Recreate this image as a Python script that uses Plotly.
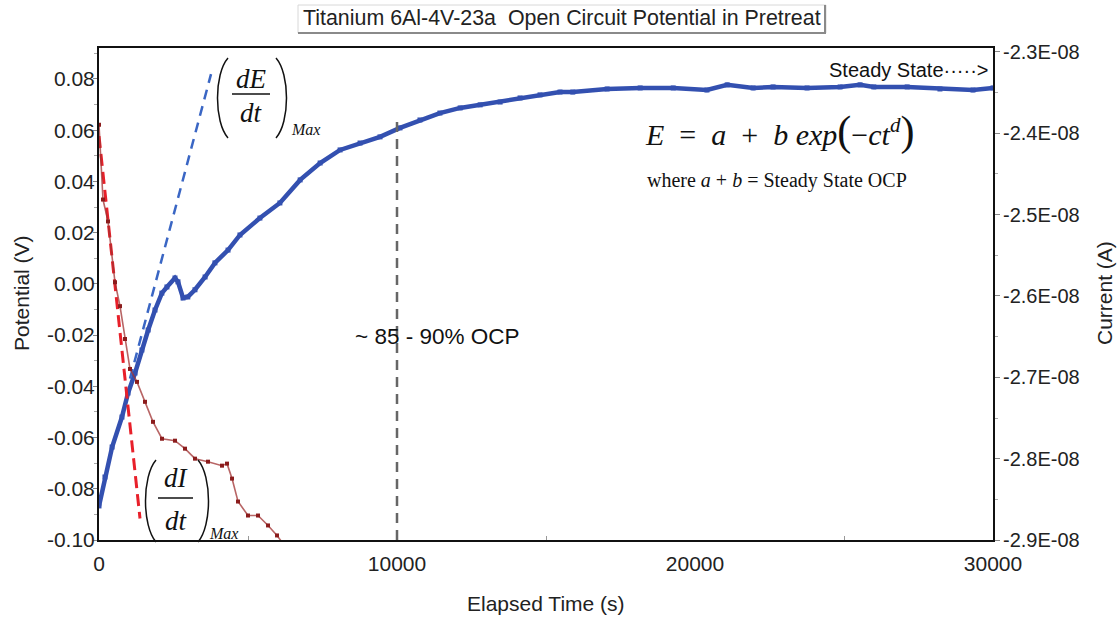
import plotly.graph_objects as go

# ---------------- data ----------------
time_E = [0, 200, 440, 770, 975, 1210, 1440, 1650, 1880, 2110, 2280, 2550, 2650, 2820, 2980,
          3220, 3560, 3890, 4330, 4730, 5400, 6070, 6750, 7420, 8090, 8760, 9430, 10100,
          10770, 11440, 12120, 12790, 13460, 14130, 14800, 15470, 15900, 17050, 18160,
          19270, 20400, 21080, 21950, 22620, 23760, 24870, 25540, 26000, 27120, 28220,
          29330, 30000]
potential = [-0.0867, -0.0754, -0.0637, -0.0520, -0.0426, -0.0348, -0.0258, -0.0180, -0.0102,
             -0.0036, -0.0012, 0.0023, 0.0008, -0.0055, -0.0051, -0.0023, 0.0027, 0.0082,
             0.0132, 0.0191, 0.0257, 0.0316, 0.0406, 0.0472, 0.0523, 0.0550, 0.0574, 0.0609,
             0.0640, 0.0667, 0.0687, 0.0699, 0.0710, 0.0726, 0.0738, 0.0749, 0.0749, 0.0761,
             0.0765, 0.0765, 0.0757, 0.0777, 0.0765, 0.0769, 0.0765, 0.0769, 0.0777, 0.0769,
             0.0769, 0.0761, 0.0757, 0.0765]

time_I = [0, 134, 302, 537, 705, 873, 1040, 1275, 1544, 1812, 2114, 2550, 2886, 3222, 3658,
          4128, 4296, 4464, 4665, 5000, 5336, 5672, 5974, 6242]
current = [-2.3895e-8, -2.4814e-8, -2.5083e-8, -2.5831e-8, -2.6125e-8, -2.6529e-8, -2.6897e-8,
           -2.7056e-8, -2.7301e-8, -2.7547e-8, -2.7755e-8, -2.7779e-8, -2.7877e-8, -2.8000e-8,
           -2.8037e-8, -2.8086e-8, -2.8061e-8, -2.8245e-8, -2.8527e-8, -2.8699e-8, -2.8699e-8,
           -2.8821e-8, -2.8944e-8, -2.9078e-8]

# tangent lines (max slopes)
dEdt_t = [1040, 3759]
dEdt_E = [-0.0370, 0.0819]
dIdt_t = [0, 1376]
dIdt_E = [0.0577, -0.0916]

ocp_t = [10000, 10000]
ocp_E = [-0.10, 0.0655]

x_ticks = [0, 10000, 20000, 30000]
x_ticktext = ["0", "10000", "20000", "30000"]
yl_ticks = [0.08, 0.06, 0.04, 0.02, 0.0, -0.02, -0.04, -0.06, -0.08, -0.10]
yl_ticktext = ["0.08", "0.06", "0.04", "0.02", "0.00", "-0.02", "-0.04", "-0.06", "-0.08", "-0.10"]
yr_ticks = [-2.3e-8, -2.4e-8, -2.5e-8, -2.6e-8, -2.7e-8, -2.8e-8, -2.9e-8]
yr_ticktext = ["-2.3E-08", "-2.4E-08", "-2.5E-08", "-2.6E-08", "-2.7E-08", "-2.8E-08", "-2.9E-08"]

# --------------- layout helpers (pixel -> paper) ---------------
L, R, T, B = 99, 993, 48, 540
def px(x):
    return (x - L) / (R - L)
def py(y):
    return (B - y) / (B - T)

SANS = "Arial, Liberation Sans, sans-serif"
SERIF = "Times New Roman, Liberation Serif, serif"

fig = go.Figure()

fig.add_trace(go.Scatter(x=time_E, y=potential, mode="lines+markers",
                         line=dict(color="#3350b0", width=4.5),
                         marker=dict(color="#3350b0", size=5, symbol="square"),
                         yaxis="y", showlegend=False))
fig.add_trace(go.Scatter(x=time_I, y=current, mode="lines+markers",
                         line=dict(color="rgba(160,50,50,0.75)", width=1.6),
                         marker=dict(color="#8b1c1c", size=4, symbol="square"),
                         yaxis="y2", showlegend=False))
fig.add_trace(go.Scatter(x=dEdt_t, y=dEdt_E, mode="lines",
                         line=dict(color="#3a66c4", width=2.5, dash="10px,7px"),
                         yaxis="y", showlegend=False))
fig.add_trace(go.Scatter(x=dIdt_t, y=dIdt_E, mode="lines",
                         line=dict(color="#e8202a", width=3, dash="12px,6px"),
                         yaxis="y", showlegend=False))
fig.add_trace(go.Scatter(x=ocp_t, y=ocp_E, mode="lines",
                         line=dict(color="#666666", width=2.5, dash="10px,7px"),
                         yaxis="y", showlegend=False))

ann = []
shapes = []

def note(text, x, y, size, family=SANS, xanchor="center", angle=0, color="#111"):
    ann.append(dict(text=text, x=px(x), y=py(y), xref="paper", yref="paper", showarrow=False,
                    xanchor=xanchor, yanchor="middle", textangle=angle,
                    font=dict(family=family, size=size, color=color)))

# title with box
note("Titanium 6Al-4V-23a  Open Circuit Potential in Pretreat", 562, 18, 21.4, color="#222")
shapes.append(dict(type="rect", xref="paper", yref="paper", x0=px(298), x1=px(826), y0=py(33), y1=py(5),
                   line=dict(color="#d8d8d8", width=1)))
shapes.append(dict(type="line", xref="paper", yref="paper", x0=px(298), x1=px(826), y0=py(33), y1=py(33),
                   line=dict(color="#8a8a8a", width=2)))
shapes.append(dict(type="line", xref="paper", yref="paper", x0=px(825), x1=px(825), y0=py(33), y1=py(5),
                   line=dict(color="#8a8a8a", width=2)))

# axis titles
note("Potential (V)", 21, 293, 21, angle=-90, color="#222")
note("Current (A)", 1104, 293, 21, angle=-90, color="#222")
note("Elapsed Time (s)", 546, 603, 21, color="#222")

# OCP label
note("~ 85 - 90% OCP", 437, 336, 22.5)

# steady state
note("Steady State\u00b7\u00b7\u00b7\u00b7\u00b7>", 991, 70, 20, xanchor="right")

# model equation
note("<i>E</i>  =  <i>a</i>  +  <i>b exp</i><span style='font-size:42px'>(</span>\u2212<i>ct</i>"
     "<sup><i>d</i></sup><span style='font-size:42px'>)</span>", 779, 131, 30, family=SERIF)
note("where <i>a</i> + <i>b</i> = Steady State OCP", 777, 180, 20, family=SERIF)

# (dX/dt)_Max blocks
def frac_block(cx, cy_num, num, cy_den, bar_x0, bar_x1, bar_y, lp, rp, top, bot, max_x, max_y):
    note("<i>%s</i>" % num, cx, cy_num, 27, family=SERIF)
    note("<i>dt</i>", cx, cy_den, 27, family=SERIF)
    note("<i>Max</i>", max_x, max_y, 16, family=SERIF, xanchor="left")
    shapes.append(dict(type="line", xref="paper", yref="paper", x0=px(bar_x0), x1=px(bar_x1),
                       y0=py(bar_y), y1=py(bar_y), line=dict(color="#111", width=1.3)))
    h = bot - top
    p = "M %f,%f C %f,%f %f,%f %f,%f" % (px(lp + 11), py(top), px(lp - 3), py(top + 0.2 * h),
                                         px(lp - 3), py(top + 0.8 * h), px(lp + 11), py(bot))
    shapes.append(dict(type="path", xref="paper", yref="paper", path=p, line=dict(color="#111", width=1.5)))
    p = "M %f,%f C %f,%f %f,%f %f,%f" % (px(rp - 11), py(top), px(rp + 3), py(top + 0.2 * h),
                                         px(rp + 3), py(top + 0.8 * h), px(rp - 11), py(bot))
    shapes.append(dict(type="path", xref="paper", yref="paper", path=p, line=dict(color="#111", width=1.5)))

frac_block(251, 79, "dE", 113, 232, 270, 94, 217, 287, 58, 138, 289, 129)
frac_block(176, 478, "dI", 521, 158, 193, 498, 145, 209, 460, 542, 207, 533)

fig.update_layout(
    width=1120, height=618,
    margin=dict(l=L, r=1120 - R, t=T, b=618 - B),
    paper_bgcolor="white", plot_bgcolor="white",
    annotations=ann, shapes=shapes,
    xaxis=dict(range=[0, 30000], tickvals=x_ticks, ticktext=x_ticktext, showgrid=False, zeroline=False,
               showline=True, linecolor="#111", linewidth=2, mirror=True, ticks="",
               ticklabelstandoff=4,
               minor=dict(tickvals=[5000, 15000, 25000], ticks="inside", ticklen=4, tickcolor="#999"),
               tickfont=dict(family=SANS, size=21, color="#222")),
    yaxis=dict(range=[-0.10, 0.0921], tickvals=yl_ticks, ticktext=yl_ticktext, showgrid=False,
               zeroline=False, showline=True, linecolor="#111", linewidth=2, mirror=True,
               ticks="outside", ticklen=4, tickcolor="#888", ticklabelstandoff=-6,
               minor=dict(dtick=0.01, tick0=0, ticks="outside", ticklen=3, tickcolor="#aaa"),
               tickfont=dict(family=SANS, size=21, color="#222")),
    yaxis2=dict(range=[-2.9e-8, -2.2951e-8], tickvals=yr_ticks, ticktext=yr_ticktext, overlaying="y",
                side="right", showgrid=False, zeroline=False, showline=True, linecolor="#111",
                linewidth=2, ticks="outside", ticklen=5, tickcolor="#888", ticklabelstandoff=-1,
                minor=dict(dtick=0.5e-9, tick0=0, ticks="outside", ticklen=3, tickcolor="#aaa"),
                tickfont=dict(family=SANS, size=20, color="#222")),
)

fig.write_html("out.html")
